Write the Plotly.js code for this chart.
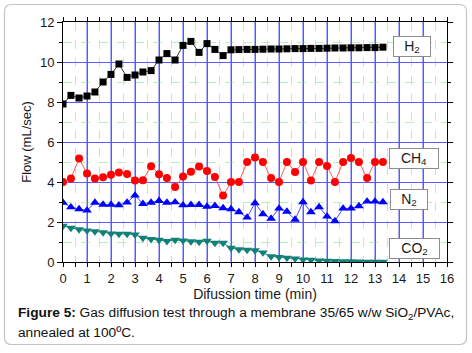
<!DOCTYPE html>
<html>
<head>
<meta charset="utf-8">
<script src="https://cdn.plot.ly/plotly-3.0.1.min.js"></script>
<style>
  html, body { margin: 0; padding: 0; background: #ffffff; }
  #chart { width: 472px; height: 353px; }
</style>
</head>
<body>
<div id="chart"></div>
<script>
// Diffusion time (min), sampled every 20 s
const time = [0, 0.33, 0.67, 1, 1.33, 1.67, 2, 2.33, 2.67, 3, 3.33, 3.67, 4, 4.33, 4.67,
  5, 5.33, 5.67, 6, 6.33, 6.67, 7, 7.33, 7.67, 8, 8.33, 8.67, 9, 9.33, 9.67, 10,
  10.33, 10.67, 11, 11.33, 11.67, 12, 12.33, 12.67, 13, 13.33];

const flowH2 = [7.9, 8.33, 8.2, 8.3, 8.5, 9.0, 9.38, 9.9, 9.23, 9.35, 9.5, 9.57, 10.1, 10.42,
  10.1, 10.83, 11.03, 10.48, 10.92, 10.63, 10.32, 10.61, 10.62, 10.63, 10.63, 10.64, 10.65,
  10.65, 10.66, 10.67, 10.67, 10.68, 10.68, 10.69, 10.70, 10.70, 10.71, 10.71, 10.72, 10.72, 10.74];

const flowCH4 = [4.0, 4.17, 5.18, 4.42, 4.18, 4.24, 4.36, 4.48, 4.4, 4.08, 4.09, 4.79, 4.39,
  4.2, 3.75, 4.27, 4.51, 4.78, 4.55, 4.25, 3.32, 4.0, 4.0, 5.0, 5.22, 5.0, 4.2, 4.0, 5.0,
  4.5, 5.0, 4.08, 5.0, 4.8, 4.0, 5.0, 5.2, 5.0, 4.2, 5.0, 5.0];

const flowN2 = [2.97, 2.74, 2.65, 2.58, 2.97, 2.87, 2.87, 2.84, 2.98, 3.33, 2.91, 2.97, 3.06,
  2.97, 2.99, 2.84, 2.86, 2.86, 2.77, 2.81, 2.7, 2.65, 2.5, 2.23, 2.95, 2.4, 2.17, 2.68,
  2.52, 2.12, 3.0, 2.5, 2.75, 2.28, 2.05, 2.68, 2.68, 2.8, 3.03, 3.03, 3.0];

const flowCO2 = [1.8, 1.7, 1.63, 1.57, 1.53, 1.48, 1.42, 1.4, 1.4, 1.37, 1.2, 1.14, 1.1, 1.04,
  1.1, 1.07, 1.03, 1.0, 1.05, 0.95, 0.95, 0.7, 0.63, 0.6, 0.58, 0.47, 0.28, 0.24, 0.21,
  0.17, 0.12, 0.1, 0.07, 0.05, 0.04, 0.03, 0.03, 0.02, 0.01, 0.0, 0.0];

const gasLabels = ['H<sub>2</sub>', 'CH<sub>4</sub>', 'N<sub>2</sub>', 'CO<sub>2</sub>'];
// Major vertical grid positions (minutes)
const xGridMajor = [1, 2, 3, 4, 5, 6, 7, 8, 9, 10, 11, 12, 13, 14, 15];

const FONT = 'Arial, "Liberation Sans", sans-serif';
const BLUE_GRID = '#5a5aff';
const GREEN_GRID = '#b9efb9';

const traces = [
  { x: time, y: flowH2, name: 'H2', mode: 'lines+markers',
    line: { color: '#333333', width: 1 },
    marker: { symbol: 'square', size: 7, color: '#000000' } },
  { x: time, y: flowCH4, name: 'CH4', mode: 'lines+markers',
    line: { color: '#ff5a5a', width: 1 },
    marker: { symbol: 'circle', size: 8, color: '#ff0000' } },
  { x: time, y: flowN2, name: 'N2', mode: 'lines+markers',
    line: { color: '#4a4aff', width: 1 },
    marker: { symbol: 'triangle-up', size: 8.5, color: '#0000ff' } },
  { x: time, y: flowCO2, name: 'CO2', mode: 'lines+markers',
    line: { color: '#1a8a82', width: 1 },
    marker: { symbol: 'triangle-down', size: 8.5, color: '#138078' } }
];

function box(text, x, y, w) {
  return { text: text, x: x, y: y, xref: 'x', yref: 'y', showarrow: false,
    font: { family: FONT, size: 14, color: '#1a1a1a' },
    bgcolor: '#ffffff', bordercolor: '#8c8c8c', borderwidth: 1, borderpad: 1,
    width: w, height: 17, xanchor: 'center', yanchor: 'middle' };
}

const gridShapes = xGridMajor.map(v => ({
  type: 'line', layer: 'between', xref: 'x', yref: 'paper',
  x0: v, x1: v, y0: 0, y1: 1,
  line: { color: BLUE_GRID, width: 1 }
}));

// Rounded outer frame of the figure, in paper coordinates
const fx0 = -0.1523, fx1 = 1.0508, fyT = 1.0729, fyB = -0.3438, rx = 0.0182, ry = 0.0292;
const framePath = 'M' + (fx0 + rx) + ',' + fyT + ' L' + (fx1 - rx) + ',' + fyT +
  ' Q' + fx1 + ',' + fyT + ' ' + fx1 + ',' + (fyT - ry) +
  ' L' + fx1 + ',' + (fyB + ry) + ' Q' + fx1 + ',' + fyB + ' ' + (fx1 - rx) + ',' + fyB +
  ' L' + (fx0 + rx) + ',' + fyB + ' Q' + fx0 + ',' + fyB + ' ' + fx0 + ',' + (fyB + ry) +
  ' L' + fx0 + ',' + (fyT - ry) + ' Q' + fx0 + ',' + fyT + ' ' + (fx0 + rx) + ',' + fyT + ' Z';

const layout = {
  width: 472, height: 353,
  margin: { l: 63, r: 25, t: 22, b: 91 },
  paper_bgcolor: '#ffffff', plot_bgcolor: '#ffffff',
  showlegend: false,
  font: { family: FONT, color: '#1a1a1a' },
  xaxis: {
    range: [0, 16], tickmode: 'linear', tick0: 0, dtick: 1,
    ticks: 'outside', ticklen: 4, tickcolor: '#000', tickwidth: 1,
    showline: true, linecolor: '#000', linewidth: 1, mirror: 'ticks',
    showgrid: true, gridcolor: BLUE_GRID, gridwidth: 1,
    zeroline: false,
    minor: { tick0: 0, dtick: 0.5, ticks: 'outside', ticklen: 4, tickcolor: '#000',
             showgrid: true, gridcolor: GREEN_GRID, griddash: 'dash', gridwidth: 1 },
    tickfont: { family: FONT, size: 13, color: '#1a1a1a' },
    title: { text: 'Difussion time (min)', font: { family: FONT, size: 14, color: '#1a1a1a' }, standoff: 4 }
  },
  yaxis: {
    range: [0, 12], tickmode: 'linear', tick0: 0, dtick: 2,
    ticks: 'outside', ticklen: 5, tickcolor: '#000', tickwidth: 1,
    showline: true, linecolor: '#000', linewidth: 1, mirror: 'ticks',
    showgrid: true, gridcolor: BLUE_GRID, gridwidth: 1,
    zeroline: false,
    minor: { tick0: 0, dtick: 1, ticks: 'outside', ticklen: 3, tickcolor: '#000',
             showgrid: true, gridcolor: GREEN_GRID, griddash: 'dash', gridwidth: 1 },
    tickfont: { family: FONT, size: 13, color: '#1a1a1a' },
    title: { text: 'Flow (mL/sec)', font: { family: FONT, size: 13, color: '#1a1a1a' }, standoff: 5 }
  },
  shapes: gridShapes.concat([{
    type: 'path', layer: 'above', xref: 'paper', yref: 'paper', path: framePath,
    line: { color: '#c4c4c4', width: 1.2 }
  }]),
  annotations: [
    box(gasLabels[0], 14.53, 10.77, 34),
    box(gasLabels[1], 14.64, 5.2, 46),
    box(gasLabels[2], 14.43, 3.15, 34),
    box(gasLabels[3], 14.63, 0.7, 47),
    { text: '<b>Figure 5:</b> Gas diffusion test through a membrane 35/65 w/w SiO<sub>2</sub>/PVAc,',
      xref: 'paper', yref: 'paper', x: -0.122, y: -0.2125, xanchor: 'left', yanchor: 'middle',
      showarrow: false, align: 'left', font: { family: FONT, size: 13.7, color: '#111' } },
    { text: 'annealed at 100ºC.',
      xref: 'paper', yref: 'paper', x: -0.122, y: -0.292, xanchor: 'left', yanchor: 'middle',
      showarrow: false, align: 'left', font: { family: FONT, size: 13.7, color: '#111' } }
  ]
};

Plotly.newPlot('chart', traces, layout, { displayModeBar: false, staticPlot: true });
</script>
</body>
</html>
